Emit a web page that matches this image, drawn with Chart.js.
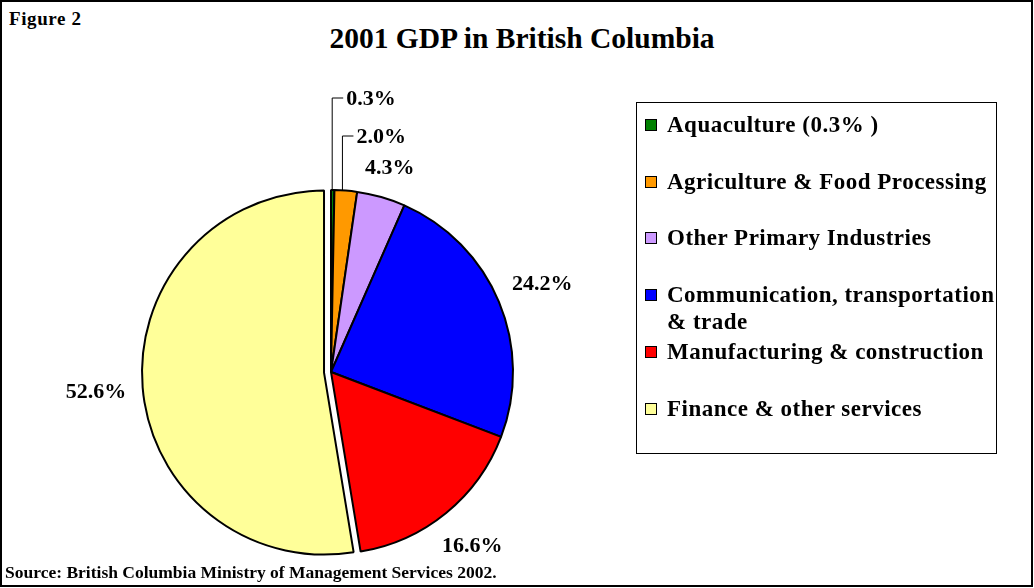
<!DOCTYPE html>
<html>
<head>
<meta charset="utf-8">
<script src="https://cdn.jsdelivr.net/npm/chart.js@4.4.0/dist/chart.umd.min.js"></script>
<style>
    body { margin: 0; background: #fff; font-family: "Liberation Serif", "Times New Roman", serif; font-weight: bold; color: #000; }
    #frame { position: absolute; left: 0; top: 0; width: 1033px; height: 587px; box-sizing: border-box; border: 2px solid #000; }
    #fig { position: absolute; left: 9px; top: 8px; font-size: 19px; letter-spacing: 0.6px; }
    #title { position: absolute; left: 0; width: 1044px; top: 22px; text-align: center; font-size: 29.5px; }
    #source { position: absolute; left: 5px; top: 562px; font-size: 17.5px; }
    #legend { position: absolute; left: 636px; top: 102px; width: 361px; height: 352px; box-sizing: border-box; border: 1px solid #000; }
    .item { position: absolute; left: 8px; display: flex; align-items: flex-start; font-size: 23px; line-height: 27px; white-space: pre; letter-spacing: 0.5px; }
    .sw { width: 12px; height: 12px; box-sizing: border-box; border: 1.5px solid #000; margin: 8px 10px 0 0; flex: none; }
    canvas { position: absolute; left: 0; top: 0; }
</style>
</head>
<body>
<div id="frame"></div>
<div id="fig">Figure 2</div>
<div id="title">2001 GDP in British Columbia</div>
<canvas id="pie" width="1034" height="588"></canvas>
<div id="legend"></div>
<div id="source">Source: British Columbia Ministry of Management Services 2002.</div>
<script>
const categories = ['Aquaculture', 'Agriculture & Food Processing', 'Other Primary Industries',
    'Communication, transportation & trade', 'Manufacturing & construction', 'Finance & other services'];
const legendLabels = ['Aquaculture (0.3% )', 'Agriculture & Food Processing', 'Other Primary Industries',
    'Communication, transportation\n& trade', 'Manufacturing & construction', 'Finance & other services'];
const shares = [0.3, 2.0, 4.3, 24.2, 16.6, 52.6];
const colors = ['#008000', '#FF9900', '#CC99FF', '#0000FF', '#FF0000', '#FFFF99'];
const explode = [0, 0, 0, 0, 0, 7];

// legend box
const legendEl = document.getElementById('legend');
legendLabels.forEach((lab, i) => {
    const d = document.createElement('div');
    d.className = 'item';
    d.style.top = (8 + i * 56.7) + 'px';
    d.innerHTML = `<span class="sw" style="background:${colors[i]}"></span><span></span>`;
    d.lastChild.textContent = lab;
    legendEl.appendChild(d);
});

// pull exploded slices out along their mid angle (plain shift, no resizing)
const explodeSlices = {
    id: 'explodeSlices',
    beforeDatasetsDraw(chart) {
        chart.getDatasetMeta(0).data.forEach((arc, i) => {
            if (!explode[i]) return;
            const mid = (arc.startAngle + arc.endAngle) / 2;
            arc._home = { x: arc.x, y: arc.y };
            arc.x += explode[i] * Math.cos(mid);
            arc.y += explode[i] * Math.sin(mid);
        });
    },
    afterDatasetsDraw(chart) {
        chart.getDatasetMeta(0).data.forEach(arc => {
            if (arc._home) { arc.x = arc._home.x; arc.y = arc._home.y; delete arc._home; }
        });
    }
};

// percent labels outside the pie; the two thin slices get leader lines
const pieLabels = {
    id: 'pieLabels',
    afterDatasetsDraw(chart) {
        const ctx = chart.ctx;
        const meta = chart.getDatasetMeta(0);
        const rises = [92, 54];
        let k = 0;
        ctx.save();
        ctx.font = 'bold 22px "Liberation Serif", "Times New Roman", serif';
        ctx.fillStyle = '#000';
        ctx.strokeStyle = '#000';
        ctx.lineWidth = 1;
        meta.data.forEach((arc, i) => {
            const { x, y, startAngle, endAngle, outerRadius } = arc;
            const text = shares[i].toFixed(1) + '%';
            if (shares[i] < 3) {
                const a = startAngle + 0.35 * (endAngle - startAngle);
                const ax = x + outerRadius * Math.cos(a);
                const ay = y + outerRadius * Math.sin(a);
                const ly = y - outerRadius - rises[k++];
                ctx.beginPath();
                ctx.moveTo(ax, ay);
                ctx.lineTo(ax, ly);
                ctx.lineTo(ax + 11, ly);
                ctx.stroke();
                ctx.textAlign = 'left';
                ctx.textBaseline = 'middle';
                ctx.fillText(text, ax + 14, ly + 1);
                return;
            }
            const mid = (startAngle + endAngle) / 2;
            const dx = Math.cos(mid), dy = Math.sin(mid);
            const w = ctx.measureText(text).width;
            const proj = Math.abs(dx) * w / 2 + Math.abs(dy) * 8;
            const r = outerRadius + explode[i] + 16 + proj;
            ctx.textAlign = 'center';
            ctx.textBaseline = 'middle';
            ctx.fillText(text, x + r * dx, y + r * dy + 1);
        });
        ctx.restore();
    }
};

new Chart(document.getElementById('pie'), {
    type: 'pie',
    data: {
        labels: categories,
        datasets: [{
            data: shares,
            backgroundColor: colors,
            borderColor: '#000',
            borderWidth: 2
        }]
    },
    options: {
        responsive: false,
        animation: false,
        radius: 182,
        layout: { padding: { left: 149, right: 521, top: 190, bottom: 34 } },
        plugins: {
            legend: { display: false },
            tooltip: { enabled: false }
        }
    },
    plugins: [explodeSlices, pieLabels]
});
</script>
</body>
</html>
